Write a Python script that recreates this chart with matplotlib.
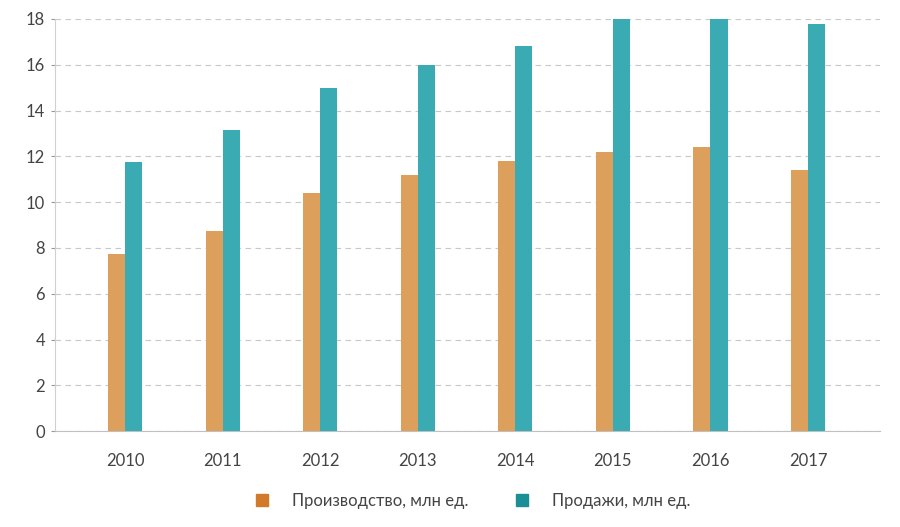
import matplotlib.pyplot as plt
from matplotlib.lines import Line2D
import numpy as np

years = ['2010', '2011', '2012', '2013', '2014', '2015', '2016', '2017']
production = [7.75, 8.75, 10.4, 11.2, 11.8, 12.2, 12.4, 11.4]
sales = [11.75, 13.15, 15.0, 16.0, 16.8, 18.0, 18.0, 17.8]
labels = ['Производство, млн ед.', 'Продажи, млн ед.']

plt.rcParams['font.family'] = 'Lato'
fig = plt.figure(figsize=(9, 5.27), dpi=100)
ax = fig.add_axes([0.061, 0.182, 0.917, 0.782])

x = np.arange(len(years))
w = 0.175
ax.bar(x - w / 2, production, w, color='#dca05c', zorder=3)
ax.bar(x + w / 2, sales, w, color='#3aabb3', zorder=3)

ax.set_xlim(-0.72, 7.74)
ax.set_ylim(0, 18)
ax.set_yticks(range(0, 19, 2))
ax.set_xticks(x)
ax.set_xticklabels(years)
ax.grid(axis='y', linestyle=(0, (5, 4)), color='#c8c8c8', linewidth=0.8, zorder=0)
for s in ['top', 'right']:
    ax.spines[s].set_visible(False)
ax.spines['left'].set_color('#d0d0d0')
ax.spines['bottom'].set_color('#c0c0c0')
ax.tick_params(axis='y', length=3, color='#999999', labelsize=12, labelcolor='#444444', pad=4)
ax.tick_params(axis='x', length=0, labelsize=12, labelcolor='#444444', pad=16)

handles = [Line2D([], [], marker='s', linestyle='', markersize=8, color='#d07a2a'),
           Line2D([], [], marker='s', linestyle='', markersize=8, color='#1a8f96')]
fig.legend(handles, labels, loc='center', bbox_to_anchor=(0.52, 0.05), ncol=2,
           frameon=False, fontsize=12, labelcolor='#444444', columnspacing=2.2, handletextpad=0.8)

fig.savefig('out.png')
